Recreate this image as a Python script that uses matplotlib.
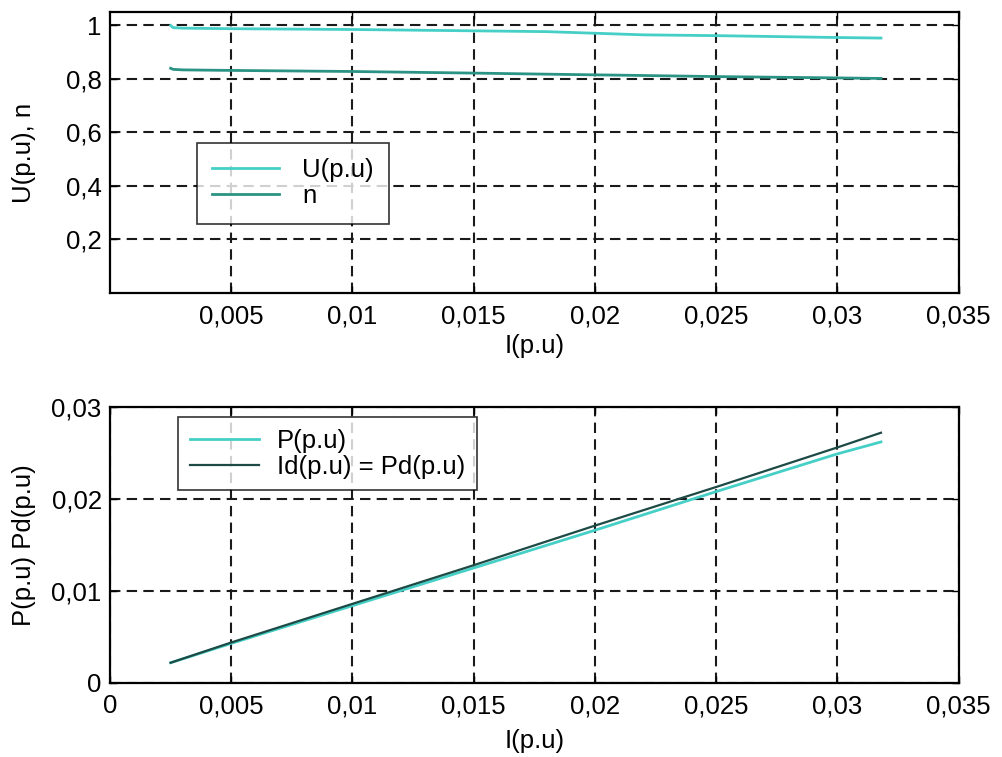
import matplotlib
matplotlib.use("Agg")
import matplotlib.pyplot as plt
from matplotlib.ticker import FuncFormatter

plt.rcParams.update(
    {
        "font.family": ["Liberation Sans", "DejaVu Sans"],
        "font.size": 18.5,
    }
)

# top panel: voltage and efficiency vs current
i_top = [0.0025, 0.0026, 0.0030, 0.0050, 0.0100, 0.0150, 0.0180, 0.0220, 0.0250, 0.0300, 0.0318]
u_pu = [1.000, 0.992, 0.990, 0.988, 0.985, 0.980, 0.977, 0.965, 0.962, 0.955, 0.953]
eff_n = [0.840, 0.836, 0.834, 0.832, 0.828, 0.822, 0.818, 0.813, 0.809, 0.804, 0.802]

# bottom panel: power vs current
i_bot = [0.0025, 0.0050, 0.0100, 0.0150, 0.0200, 0.0250, 0.0300, 0.0318]
p_pu = [0.0022, 0.0043, 0.0084, 0.0125, 0.0166, 0.0208, 0.0249, 0.0262]
id_pu = [0.0022, 0.0044, 0.0086, 0.0128, 0.0171, 0.0213, 0.0256, 0.0272]

top_xticks = [0.005, 0.01, 0.015, 0.02, 0.025, 0.03, 0.035]
top_yticks = [0.2, 0.4, 0.6, 0.8, 1.0]
bot_xticks = [0, 0.005, 0.01, 0.015, 0.02, 0.025, 0.03, 0.035]
bot_yticks = [0, 0.01, 0.02, 0.03]

CYAN = "#45cfc6"
TEAL = "#2b9384"
DARK = "#1d4a45"
W, H = 1003, 757


def comma(v, _pos=None):
    s = f"{v:.3f}".rstrip("0").rstrip(".")
    return s.replace(".", ",")


def style(ax):
    ax.grid(True, color="#1a1a1a", linestyle=(0, (5, 3)), linewidth=1.5)
    ax.tick_params(direction="in", top=True, right=True, length=5, width=1)
    ax.tick_params(axis="x", pad=8)
    ax.tick_params(axis="y", pad=6)
    for sp in ax.spines.values():
        sp.set_linewidth(1.6)
    ax.xaxis.set_major_formatter(FuncFormatter(comma))
    ax.yaxis.set_major_formatter(FuncFormatter(comma))


def legend_at(ax, x, y, pad, **kw):
    leg = ax.legend(
        loc="upper left",
        bbox_to_anchor=(x / W, 1 - y / H),
        bbox_transform=fig.transFigure,
        borderaxespad=0,
        frameon=True,
        fancybox=False,
        edgecolor="black",
        borderpad=pad,
        labelspacing=0.08,
        **kw,
    )
    leg.get_frame().set_linewidth(1.2)
    return leg


fig = plt.figure(figsize=(W / 100, H / 100), dpi=100)

ax1 = fig.add_axes([0.1097, 0.613, 0.846, 0.371])
ax1.plot(i_top, u_pu, color=CYAN, lw=2.0, label="U(p.u)")
ax1.plot(i_top, eff_n, color=TEAL, lw=2.0, label="n")
ax1.set_xlim(0, 0.035)
ax1.set_ylim(0, 1.05)
ax1.set_xticks(top_xticks)
ax1.set_yticks(top_yticks)
style(ax1)
ax1.set_xlabel("I(p.u)")
ax1.set_ylabel("U(p.u), n")
ax1.xaxis.set_label_coords(0.5, -0.145)
ax1.yaxis.set_label_coords(-0.087, 0.5)
legend_at(ax1, 197, 143, 0.6, handlelength=2.6, handletextpad=0.9)

ax2 = fig.add_axes([0.1097, 0.0978, 0.846, 0.3646])
ax2.plot(i_bot, p_pu, color=CYAN, lw=2.0, label="P(p.u)")
ax2.plot(i_bot, id_pu, color=DARK, lw=1.6, label="Id(p.u) = Pd(p.u)")
ax2.set_xlim(0, 0.035)
ax2.set_ylim(0, 0.03)
ax2.set_xticks(bot_xticks)
ax2.set_yticks(bot_yticks)
style(ax2)
ax2.set_xlabel("I(p.u)")
ax2.set_ylabel("P(p.u) Pd(p.u)")
ax2.xaxis.set_label_coords(0.5, -0.165)
ax2.yaxis.set_label_coords(-0.087, 0.5)
legend_at(ax2, 178, 417, 0.45, handlelength=2.7, handletextpad=0.7)

fig.savefig("out.png", dpi=100)
